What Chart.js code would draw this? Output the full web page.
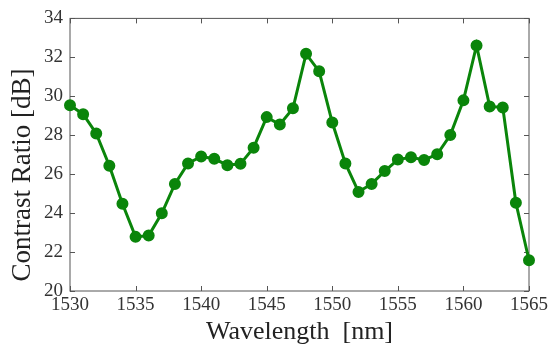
<!DOCTYPE html>
<html>
<head>
<meta charset="utf-8">
<script src="https://cdn.jsdelivr.net/npm/chart.js@4"></script>
<style>
  html, body { margin: 0; padding: 0; background: #fff; }
  #wrap { width: 552px; height: 345px; }
</style>
</head>
<body>
<div id="wrap"><canvas id="contrastChart"></canvas></div>
<script>
// wavelength in nm, one point per nm
const wavelengths = [
  1530, 1531, 1532, 1533, 1534, 1535, 1536, 1537, 1538, 1539,
  1540, 1541, 1542, 1543, 1544, 1545, 1546, 1547, 1548, 1549,
  1550, 1551, 1552, 1553, 1554, 1555, 1556, 1557, 1558, 1559,
  1560, 1561, 1562, 1563, 1564, 1565,
];
// contrast ratio in dB
const contrast = [
  29.54, 29.08, 28.09, 26.43, 24.48, 22.78, 22.85, 23.99, 25.5, 26.55,
  26.91, 26.79, 26.46, 26.53, 27.36, 28.93, 28.55, 29.38, 32.18, 31.28,
  28.65, 26.55, 25.09, 25.5, 26.16, 26.75, 26.87, 26.73, 27.02, 28.01,
  29.79, 32.61, 29.48, 29.43, 24.53, 21.58,
];
const xRange = [1530, 1565];
const yRange = [20, 34];

const serif = "Liberation Serif";
Chart.defaults.font.family = serif;

// box around the plot with inward ticks on all four sides
const frameTicks = {
  id: "frameTicks",
  beforeDatasetsDraw(chart) {
    const { ctx, chartArea: a, scales } = chart;
    const len = 5;
    ctx.save();
    ctx.strokeStyle = "#555";
    ctx.lineWidth = 1;
    ctx.strokeRect(a.left, a.top, a.right - a.left, a.bottom - a.top);
    ctx.beginPath();
    scales.x.ticks.forEach((t) => {
      const px = Math.round(scales.x.getPixelForValue(t.value)) + 0.5;
      ctx.moveTo(px, a.bottom);
      ctx.lineTo(px, a.bottom - len);
      ctx.moveTo(px, a.top);
      ctx.lineTo(px, a.top + len);
    });
    scales.y.ticks.forEach((t) => {
      const py = Math.round(scales.y.getPixelForValue(t.value)) + 0.5;
      ctx.moveTo(a.left, py);
      ctx.lineTo(a.left + len, py);
      ctx.moveTo(a.right, py);
      ctx.lineTo(a.right - len, py);
    });
    ctx.stroke();
    ctx.restore();
  },
};

const dataContrast = {
  datasets: [
    {
      label: "Contrast Ratio",
      data: wavelengths.map((w, i) => ({ x: w, y: contrast[i] })),
      borderColor: "#0a850a",
      backgroundColor: "#0a850a",
      borderWidth: 3,
      pointRadius: 4.5,
      pointHoverRadius: 4.5,
      tension: 0,
      clip: false,
    },
  ],
};

const configContrast = {
  type: "line",
  data: dataContrast,
  options: {
    responsive: true,
    maintainAspectRatio: false,
    animation: false,
    layout: { padding: { top: 16, right: 23, left: 0, bottom: 0 } },
    plugins: {
      legend: { display: false },
      tooltip: { enabled: false },
    },
    scales: {
      x: {
        type: "linear",
        min: xRange[0],
        max: xRange[1],
        grid: { display: false, drawTicks: false },
        border: { display: false },
        ticks: {
          stepSize: 5,
          padding: 3,
          color: "#333",
          font: { family: serif, size: 19 },
          callback: (v) => String(v),
        },
        title: {
          display: true,
          text: "Wavelength  [nm]",
          color: "#222",
          padding: 0,
          font: { family: serif, size: 26, lineHeight: 1 },
        },
        afterFit(scale) {
          scale.height = 54;
        },
      },
      y: {
        min: yRange[0],
        max: yRange[1],
        grid: { display: false, drawTicks: false },
        border: { display: false },
        ticks: {
          stepSize: 2,
          padding: 7,
          color: "#333",
          font: { family: serif, size: 19 },
        },
        title: {
          display: true,
          // trailing spaces push the centred label down a little, as in the original
          text: "Contrast Ratio [dB]      ",
          color: "#222",
          padding: { top: 8 },
          font: { family: serif, size: 27, lineHeight: 1.1 },
        },
        afterFit(scale) {
          scale.width = 70;
        },
      },
    },
  },
  plugins: [frameTicks],
};

new Chart(document.getElementById("contrastChart"), configContrast);
</script>
</body>
</html>
